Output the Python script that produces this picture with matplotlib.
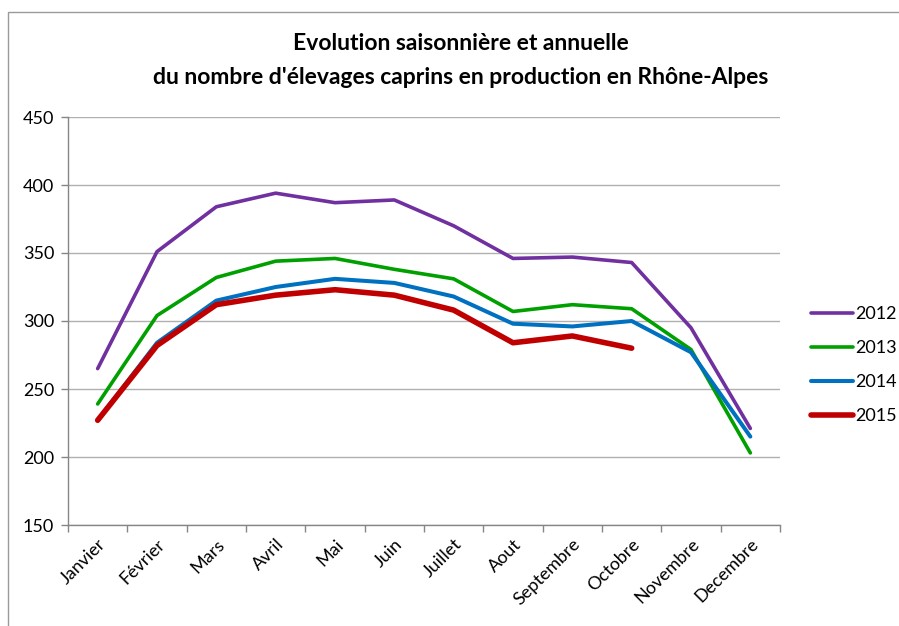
import matplotlib
matplotlib.use("Agg")
import matplotlib.pyplot as plt
from matplotlib.patches import Rectangle
import numpy as np

plt.rcParams['font.family'] = ['Lato', 'DejaVu Sans']

mois = ['Janvier', 'Février', 'Mars', 'Avril', 'Mai', 'Juin', 'Juillet',
        'Aout', 'Septembre', 'Octobre', 'Novembre', 'Decembre']

v2012 = [265, 351, 384, 394, 387, 389, 370, 346, 347, 343, 295, 221]
v2013 = [239, 304, 332, 344, 346, 338, 331, 307, 312, 309, 279, 203]
v2014 = [227, 284, 315, 325, 331, 328, 318, 298, 296, 300, 277, 215]
v2015 = [227, 282, 312, 319, 323, 319, 308, 284, 289, 280]

series = [
    ('2012', v2012, '#7030A0', 2.6),
    ('2013', v2013, '#00A000', 2.6),
    ('2014', v2014, '#0070C0', 2.9),
    ('2015', v2015, '#C00000', 4.0),
]

fig = plt.figure(figsize=(8.99, 6.26), dpi=100)
ax = fig.add_axes([68 / 899, 1 - 525 / 626, (780 - 68) / 899, (525 - 117) / 626])

# cadre partiel du graphique (haut et gauche visibles)
fig.patches.append(Rectangle((8 / 899, -0.1), 1.2, 1 - 12 / 626 + 0.1,
                             transform=fig.transFigure, fill=False,
                             edgecolor='#9a9a9a', linewidth=1.0))

handles = []
for nom, vals, col, lw in series:
    x = np.arange(len(vals))
    h, = ax.plot(x, vals, color=col, linewidth=lw, solid_capstyle='round',
                 solid_joinstyle='round', label=nom)
    handles.append(h)

ax.set_xlim(-0.5, 11.5)
ax.set_ylim(150, 450)
ax.set_yticks(range(150, 451, 50))
ax.set_xticks(range(12))
ax.set_xticklabels(mois, rotation=45, ha='right', rotation_mode='anchor', fontsize=13)
ax.set_xticks(np.arange(-0.5, 12, 1), minor=True)
ax.tick_params(axis='x', which='major', length=0, pad=8)
ax.tick_params(axis='x', which='minor', length=5, color='#868686', width=1)
ax.tick_params(axis='y', length=5, color='#868686', width=1, labelsize=13, pad=5)

ax.grid(axis='y', color='#b0b0b0', linewidth=1)
ax.set_axisbelow(True)
for s in ['top', 'right']:
    ax.spines[s].set_visible(False)
for s in ['left', 'bottom']:
    ax.spines[s].set_color('#868686')
    ax.spines[s].set_linewidth(1)

fig.text(0.513, 1 - 43 / 626, "Evolution saisonnière et annuelle",
         ha='center', va='center', fontsize=16.5, fontweight='bold')
fig.text(0.513, 1 - 78 / 626, "du nombre d'élevages caprins en production en Rhône-Alpes",
         ha='center', va='center', fontsize=16.5, fontweight='bold')

fig.legend(handles=handles, loc='center left', bbox_to_anchor=(811 / 899, 1 - 365 / 626),
           frameon=False, fontsize=13, handlelength=2.3, handletextpad=0.15,
           labelspacing=1.0, borderpad=0, borderaxespad=0)

fig.savefig('out.png', dpi=100)
